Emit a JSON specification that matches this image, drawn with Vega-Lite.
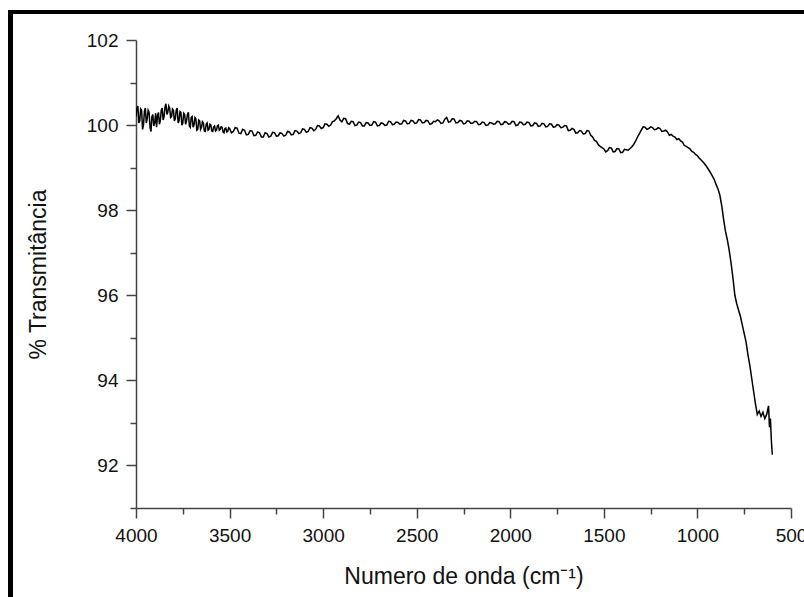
{
  "$schema": "https://vega.github.io/schema/vega-lite/v6.json",
  "width": 655,
  "height": 468,
  "autosize": "none",
  "padding": {"left": 136, "top": 40, "right": 13, "bottom": 89},
  "background": "white",
  "config": {
    "view": {"stroke": null},
    "font": "Liberation Sans",
    "axis": {
      "grid": false,
      "domainColor": "#444444",
      "domainWidth": 1.5,
      "tickColor": "#444444",
      "tickWidth": 1.5,
      "labelColor": "#111111",
      "labelFont": "Liberation Sans",
      "labelFontSize": 19,
      "titleFont": "Liberation Sans",
      "titleFontSize": 23,
      "titleFontWeight": "normal",
      "titleColor": "#111111",
      "labelOverlap": false,
      "labelFlush": false
    }
  },
  "data": {
    "values": [
      {"wn": 4000, "t": 100.2}, {"wn": 3995, "t": 100.4}, {"wn": 3990, "t": 100.45}, {"wn": 3985, "t": 100.05}, {"wn": 3980, "t": 100.1}, {"wn": 3975, "t": 100.38}, {"wn": 3970, "t": 100.35},
      {"wn": 3965, "t": 99.9}, {"wn": 3960, "t": 100.0}, {"wn": 3955, "t": 100.32}, {"wn": 3950, "t": 100.4}, {"wn": 3945, "t": 100.05}, {"wn": 3940, "t": 100.15}, {"wn": 3935, "t": 100.35}, {"wn": 3930, "t": 100.3},
      {"wn": 3925, "t": 99.95}, {"wn": 3920, "t": 99.85}, {"wn": 3915, "t": 100.2}, {"wn": 3910, "t": 100.25}, {"wn": 3905, "t": 99.98}, {"wn": 3900, "t": 100.05}, {"wn": 3895, "t": 100.28}, {"wn": 3890, "t": 99.95},
      {"wn": 3885, "t": 100.22}, {"wn": 3880, "t": 100.3}, {"wn": 3875, "t": 100.02}, {"wn": 3870, "t": 100.1}, {"wn": 3865, "t": 100.35}, {"wn": 3860, "t": 100.4}, {"wn": 3855, "t": 100.12}, {"wn": 3850, "t": 100.2},
      {"wn": 3845, "t": 100.42}, {"wn": 3840, "t": 100.5}, {"wn": 3835, "t": 100.25}, {"wn": 3830, "t": 100.3}, {"wn": 3825, "t": 100.45}, {"wn": 3820, "t": 100.4}, {"wn": 3815, "t": 100.18}, {"wn": 3810, "t": 100.2},
      {"wn": 3805, "t": 100.38}, {"wn": 3800, "t": 100.35}, {"wn": 3795, "t": 100.1}, {"wn": 3790, "t": 100.15}, {"wn": 3785, "t": 100.35}, {"wn": 3780, "t": 100.4}, {"wn": 3775, "t": 100.05}, {"wn": 3770, "t": 100.1},
      {"wn": 3765, "t": 100.32}, {"wn": 3760, "t": 100.3}, {"wn": 3755, "t": 100.0}, {"wn": 3750, "t": 100.05}, {"wn": 3745, "t": 100.28}, {"wn": 3740, "t": 100.25}, {"wn": 3735, "t": 100.02}, {"wn": 3730, "t": 100.1},
      {"wn": 3725, "t": 100.25}, {"wn": 3720, "t": 100.3}, {"wn": 3715, "t": 99.98}, {"wn": 3710, "t": 99.95}, {"wn": 3705, "t": 100.18}, {"wn": 3700, "t": 100.2}, {"wn": 3695, "t": 99.95}, {"wn": 3690, "t": 100.0},
      {"wn": 3685, "t": 100.18}, {"wn": 3680, "t": 100.15}, {"wn": 3675, "t": 99.88}, {"wn": 3670, "t": 99.9}, {"wn": 3665, "t": 100.12}, {"wn": 3660, "t": 100.1}, {"wn": 3655, "t": 99.9}, {"wn": 3650, "t": 99.95},
      {"wn": 3645, "t": 100.08}, {"wn": 3640, "t": 100.05}, {"wn": 3635, "t": 99.86}, {"wn": 3630, "t": 99.85}, {"wn": 3625, "t": 100.02}, {"wn": 3620, "t": 100.05}, {"wn": 3615, "t": 99.88}, {"wn": 3610, "t": 99.9},
      {"wn": 3605, "t": 100.02}, {"wn": 3600, "t": 100.0}, {"wn": 3595, "t": 99.86}, {"wn": 3590, "t": 99.85}, {"wn": 3585, "t": 99.96}, {"wn": 3580, "t": 99.98}, {"wn": 3575, "t": 99.86}, {"wn": 3570, "t": 99.88},
      {"wn": 3565, "t": 99.98}, {"wn": 3560, "t": 100.0}, {"wn": 3555, "t": 99.88}, {"wn": 3550, "t": 99.9}, {"wn": 3545, "t": 99.96}, {"wn": 3540, "t": 99.95}, {"wn": 3535, "t": 99.84}, {"wn": 3530, "t": 99.82},
      {"wn": 3525, "t": 99.92}, {"wn": 3520, "t": 99.93}, {"wn": 3515, "t": 99.84}, {"wn": 3510, "t": 99.85}, {"wn": 3505, "t": 99.94}, {"wn": 3500, "t": 99.92},
      {"wn": 3490, "t": 99.82}, {"wn": 3480, "t": 99.85}, {"wn": 3470, "t": 99.94}, {"wn": 3460, "t": 99.93}, {"wn": 3450, "t": 99.81}, {"wn": 3440, "t": 99.8}, {"wn": 3430, "t": 99.9}, {"wn": 3420, "t": 99.88},
      {"wn": 3410, "t": 99.77}, {"wn": 3400, "t": 99.78}, {"wn": 3390, "t": 99.87}, {"wn": 3380, "t": 99.86}, {"wn": 3370, "t": 99.75}, {"wn": 3360, "t": 99.76}, {"wn": 3350, "t": 99.84}, {"wn": 3340, "t": 99.82},
      {"wn": 3330, "t": 99.72}, {"wn": 3320, "t": 99.72}, {"wn": 3310, "t": 99.82}, {"wn": 3300, "t": 99.8}, {"wn": 3290, "t": 99.72}, {"wn": 3280, "t": 99.74}, {"wn": 3270, "t": 99.83}, {"wn": 3260, "t": 99.82},
      {"wn": 3250, "t": 99.74}, {"wn": 3240, "t": 99.75}, {"wn": 3230, "t": 99.82}, {"wn": 3220, "t": 99.8}, {"wn": 3210, "t": 99.74}, {"wn": 3200, "t": 99.76}, {"wn": 3190, "t": 99.85}, {"wn": 3180, "t": 99.84},
      {"wn": 3170, "t": 99.77}, {"wn": 3160, "t": 99.78}, {"wn": 3150, "t": 99.87}, {"wn": 3140, "t": 99.86}, {"wn": 3130, "t": 99.8}, {"wn": 3120, "t": 99.82}, {"wn": 3110, "t": 99.91}, {"wn": 3100, "t": 99.9},
      {"wn": 3090, "t": 99.83}, {"wn": 3080, "t": 99.85}, {"wn": 3070, "t": 99.94}, {"wn": 3060, "t": 99.93}, {"wn": 3050, "t": 99.87}, {"wn": 3040, "t": 99.9}, {"wn": 3030, "t": 99.99}, {"wn": 3020, "t": 99.98},
      {"wn": 3010, "t": 99.92}, {"wn": 3000, "t": 99.94}, {"wn": 2990, "t": 100.03}, {"wn": 2980, "t": 100.02}, {"wn": 2970, "t": 99.97}, {"wn": 2960, "t": 100.0}, {"wn": 2950, "t": 100.08}, {"wn": 2940, "t": 100.1},
      {"wn": 2930, "t": 100.15}, {"wn": 2920, "t": 100.22}, {"wn": 2910, "t": 100.12}, {"wn": 2900, "t": 100.08}, {"wn": 2890, "t": 100.16}, {"wn": 2880, "t": 100.15}, {"wn": 2870, "t": 100.04}, {"wn": 2860, "t": 100.02},
      {"wn": 2850, "t": 100.09}, {"wn": 2840, "t": 100.08}, {"wn": 2830, "t": 99.99}, {"wn": 2820, "t": 100.0}, {"wn": 2810, "t": 100.07}, {"wn": 2800, "t": 100.06}, {"wn": 2790, "t": 99.98}, {"wn": 2780, "t": 99.98},
      {"wn": 2770, "t": 100.06}, {"wn": 2760, "t": 100.05}, {"wn": 2750, "t": 99.99}, {"wn": 2740, "t": 100.0}, {"wn": 2730, "t": 100.08}, {"wn": 2720, "t": 100.07}, {"wn": 2710, "t": 99.98}, {"wn": 2700, "t": 99.99},
      {"wn": 2690, "t": 100.05}, {"wn": 2680, "t": 100.04}, {"wn": 2670, "t": 99.99}, {"wn": 2660, "t": 100.0}, {"wn": 2650, "t": 100.09}, {"wn": 2640, "t": 100.08}, {"wn": 2630, "t": 100.01}, {"wn": 2620, "t": 100.02},
      {"wn": 2610, "t": 100.07}, {"wn": 2600, "t": 100.06}, {"wn": 2590, "t": 100.02}, {"wn": 2580, "t": 100.03}, {"wn": 2570, "t": 100.11}, {"wn": 2560, "t": 100.1}, {"wn": 2550, "t": 100.03}, {"wn": 2540, "t": 100.04},
      {"wn": 2530, "t": 100.11}, {"wn": 2520, "t": 100.1}, {"wn": 2510, "t": 100.04}, {"wn": 2500, "t": 100.05}, {"wn": 2490, "t": 100.13}, {"wn": 2480, "t": 100.12}, {"wn": 2470, "t": 100.05}, {"wn": 2460, "t": 100.06},
      {"wn": 2450, "t": 100.11}, {"wn": 2440, "t": 100.1}, {"wn": 2430, "t": 100.02}, {"wn": 2420, "t": 100.03}, {"wn": 2410, "t": 100.09}, {"wn": 2400, "t": 100.08}, {"wn": 2390, "t": 100.12}, {"wn": 2380, "t": 100.1},
      {"wn": 2370, "t": 100.04}, {"wn": 2360, "t": 100.05}, {"wn": 2350, "t": 100.14}, {"wn": 2340, "t": 100.18}, {"wn": 2330, "t": 100.07}, {"wn": 2320, "t": 100.08}, {"wn": 2310, "t": 100.15}, {"wn": 2300, "t": 100.14},
      {"wn": 2290, "t": 100.05}, {"wn": 2280, "t": 100.06}, {"wn": 2270, "t": 100.11}, {"wn": 2260, "t": 100.1}, {"wn": 2250, "t": 100.03}, {"wn": 2240, "t": 100.04}, {"wn": 2230, "t": 100.1}, {"wn": 2220, "t": 100.09},
      {"wn": 2210, "t": 100.04}, {"wn": 2200, "t": 100.05}, {"wn": 2190, "t": 100.09}, {"wn": 2180, "t": 100.08}, {"wn": 2170, "t": 100.01}, {"wn": 2160, "t": 100.02}, {"wn": 2150, "t": 100.07}, {"wn": 2140, "t": 100.06},
      {"wn": 2130, "t": 99.99}, {"wn": 2120, "t": 100.0}, {"wn": 2110, "t": 100.06}, {"wn": 2100, "t": 100.05}, {"wn": 2090, "t": 100.02}, {"wn": 2080, "t": 100.03}, {"wn": 2070, "t": 100.09}, {"wn": 2060, "t": 100.08},
      {"wn": 2050, "t": 100.01}, {"wn": 2040, "t": 100.02}, {"wn": 2030, "t": 100.08}, {"wn": 2020, "t": 100.07}, {"wn": 2010, "t": 100.02}, {"wn": 2000, "t": 100.03}, {"wn": 1990, "t": 100.09}, {"wn": 1980, "t": 100.08},
      {"wn": 1970, "t": 99.99}, {"wn": 1960, "t": 100.0}, {"wn": 1950, "t": 100.07}, {"wn": 1940, "t": 100.06}, {"wn": 1930, "t": 100.01}, {"wn": 1920, "t": 100.02}, {"wn": 1910, "t": 100.07}, {"wn": 1900, "t": 100.06},
      {"wn": 1890, "t": 99.98}, {"wn": 1880, "t": 99.99}, {"wn": 1870, "t": 100.05}, {"wn": 1860, "t": 100.04}, {"wn": 1850, "t": 99.97}, {"wn": 1840, "t": 99.98}, {"wn": 1830, "t": 100.04}, {"wn": 1820, "t": 100.03},
      {"wn": 1810, "t": 99.96}, {"wn": 1800, "t": 99.97}, {"wn": 1790, "t": 100.03}, {"wn": 1780, "t": 100.02}, {"wn": 1770, "t": 99.95}, {"wn": 1760, "t": 99.96}, {"wn": 1750, "t": 100.01}, {"wn": 1740, "t": 100.0},
      {"wn": 1730, "t": 99.94}, {"wn": 1720, "t": 99.95}, {"wn": 1710, "t": 99.99}, {"wn": 1700, "t": 99.98}, {"wn": 1690, "t": 99.87}, {"wn": 1680, "t": 99.88}, {"wn": 1670, "t": 99.92}, {"wn": 1660, "t": 99.9},
      {"wn": 1650, "t": 99.81}, {"wn": 1640, "t": 99.82}, {"wn": 1630, "t": 99.87}, {"wn": 1620, "t": 99.86}, {"wn": 1610, "t": 99.79}, {"wn": 1600, "t": 99.8}, {"wn": 1590, "t": 99.87}, {"wn": 1580, "t": 99.86},
      {"wn": 1570, "t": 99.76}, {"wn": 1560, "t": 99.72}, {"wn": 1550, "t": 99.64}, {"wn": 1540, "t": 99.62}, {"wn": 1530, "t": 99.54}, {"wn": 1520, "t": 99.5}, {"wn": 1510, "t": 99.47}, {"wn": 1500, "t": 99.44},
      {"wn": 1490, "t": 99.37}, {"wn": 1480, "t": 99.4}, {"wn": 1470, "t": 99.47}, {"wn": 1460, "t": 99.46}, {"wn": 1450, "t": 99.37}, {"wn": 1440, "t": 99.38}, {"wn": 1430, "t": 99.45}, {"wn": 1420, "t": 99.44},
      {"wn": 1410, "t": 99.35}, {"wn": 1400, "t": 99.36}, {"wn": 1390, "t": 99.43}, {"wn": 1380, "t": 99.42}, {"wn": 1370, "t": 99.41}, {"wn": 1360, "t": 99.45}, {"wn": 1350, "t": 99.49}, {"wn": 1340, "t": 99.55},
      {"wn": 1330, "t": 99.63}, {"wn": 1320, "t": 99.72}, {"wn": 1310, "t": 99.8}, {"wn": 1300, "t": 99.88}, {"wn": 1290, "t": 99.96}, {"wn": 1280, "t": 99.95}, {"wn": 1270, "t": 99.9}, {"wn": 1260, "t": 99.92},
      {"wn": 1250, "t": 99.96}, {"wn": 1240, "t": 99.94}, {"wn": 1230, "t": 99.89}, {"wn": 1220, "t": 99.9}, {"wn": 1210, "t": 99.94}, {"wn": 1200, "t": 99.92}, {"wn": 1190, "t": 99.85}, {"wn": 1180, "t": 99.86},
      {"wn": 1170, "t": 99.88}, {"wn": 1160, "t": 99.84}, {"wn": 1150, "t": 99.76}, {"wn": 1140, "t": 99.78}, {"wn": 1130, "t": 99.74}, {"wn": 1120, "t": 99.72}, {"wn": 1110, "t": 99.66}, {"wn": 1100, "t": 99.68},
      {"wn": 1090, "t": 99.63}, {"wn": 1080, "t": 99.6}, {"wn": 1070, "t": 99.52}, {"wn": 1060, "t": 99.5}, {"wn": 1050, "t": 99.47}, {"wn": 1040, "t": 99.44}, {"wn": 1030, "t": 99.38}, {"wn": 1020, "t": 99.36},
      {"wn": 1010, "t": 99.31}, {"wn": 1000, "t": 99.28}, {"wn": 990, "t": 99.22}, {"wn": 980, "t": 99.18}, {"wn": 970, "t": 99.13}, {"wn": 960, "t": 99.08}, {"wn": 950, "t": 99.02}, {"wn": 940, "t": 98.95},
      {"wn": 930, "t": 98.88}, {"wn": 920, "t": 98.8}, {"wn": 910, "t": 98.72}, {"wn": 900, "t": 98.6}, {"wn": 890, "t": 98.5}, {"wn": 880, "t": 98.35}, {"wn": 870, "t": 98.1},
      {"wn": 860, "t": 97.78}, {"wn": 850, "t": 97.5}, {"wn": 840, "t": 97.3}, {"wn": 830, "t": 97.05},
      {"wn": 820, "t": 96.75}, {"wn": 810, "t": 96.4}, {"wn": 800, "t": 96.0}, {"wn": 790, "t": 95.8},
      {"wn": 780, "t": 95.65}, {"wn": 770, "t": 95.5}, {"wn": 760, "t": 95.3}, {"wn": 750, "t": 95.1},
      {"wn": 740, "t": 94.9}, {"wn": 730, "t": 94.6}, {"wn": 720, "t": 94.35}, {"wn": 710, "t": 94.05},
      {"wn": 700, "t": 93.75}, {"wn": 690, "t": 93.45}, {"wn": 680, "t": 93.2}, {"wn": 670, "t": 93.28},
      {"wn": 660, "t": 93.15}, {"wn": 650, "t": 93.25}, {"wn": 640, "t": 93.1}, {"wn": 630, "t": 93.2},
      {"wn": 620, "t": 93.4}, {"wn": 615, "t": 92.9}, {"wn": 610, "t": 93.1}, {"wn": 605, "t": 92.6},
      {"wn": 600, "t": 92.25}
    ]
  },
  "layer": [
    {
      "mark": {"type": "line", "color": "#000000", "strokeWidth": 1.5, "clip": true},
      "encoding": {
        "x": {
          "field": "wn", "type": "quantitative",
          "scale": {"domain": [500, 4000], "reverse": true, "nice": false, "zero": false},
          "axis": {
            "title": "Numero de onda (cm⁻¹)",
            "values": [4000, 3750, 3500, 3250, 3000, 2750, 2500, 2250, 2000, 1750, 1500, 1250, 1000, 750, 500],
            "format": "d",
            "labelExpr": "datum.value % 500 === 0 ? datum.label : ''",
            "tickSize": {"condition": {"test": "datum.value % 500 === 0", "value": 10}, "value": 6},
            "labelPadding": 8,
            "titlePadding": 20
          }
        },
        "y": {
          "field": "t", "type": "quantitative",
          "scale": {"domain": [91, 102], "nice": false, "zero": false},
          "axis": {
            "title": "% Transmitância",
            "values": [91, 92, 93, 94, 95, 96, 97, 98, 99, 100, 101, 102],
            "format": "d",
            "labelExpr": "datum.value % 2 === 0 ? datum.label : ''",
            "tickSize": {"condition": {"test": "datum.value % 2 === 0", "value": 10}, "value": 6},
            "labelPadding": 8,
            "titlePadding": 36
          }
        }
      }
    },
    {
      "mark": {"type": "rule", "color": "#000000", "strokeWidth": 4, "clip": false},
      "encoding": {
        "x": {"datum": 4680, "type": "quantitative"},
        "x2": {"datum": 300},
        "y": {"datum": 102.66, "type": "quantitative"}
      }
    },
    {
      "mark": {"type": "rule", "color": "#000000", "strokeWidth": 4, "clip": false},
      "encoding": {
        "x": {"datum": 4668, "type": "quantitative"},
        "y": {"datum": 102.7, "type": "quantitative"},
        "y2": {"datum": 88.5}
      }
    }
  ]
}
